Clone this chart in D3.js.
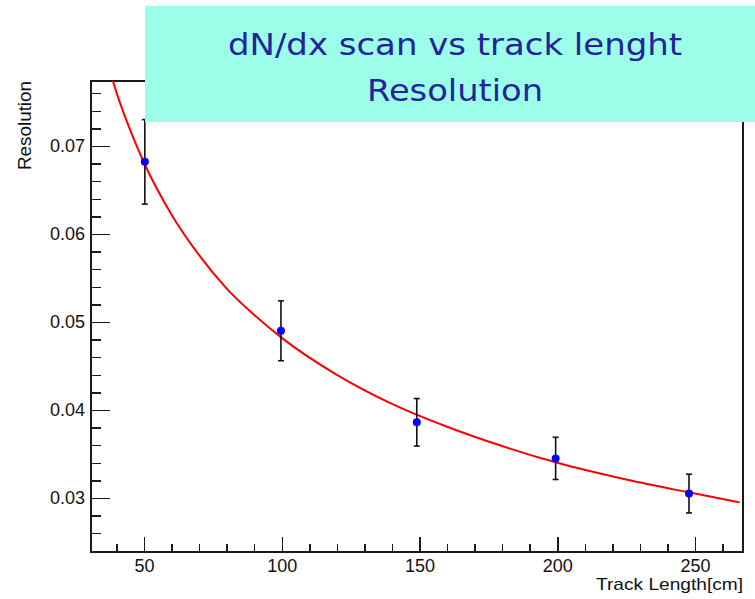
<!DOCTYPE html>
<html>
<head>
<meta charset="utf-8">
<script src="https://cdn.jsdelivr.net/npm/d3@7"></script>
<style>
  body { margin: 0; background: #fff; }
  svg { display: block; }
</style>
</head>
<body>
<div id="chart"></div>
<script>
(function(){
  // measured points
  const trackLength = [50.3, 99.7, 149, 199.4, 247.8];
  const resolution = [0.0682, 0.0490, 0.0386, 0.0345, 0.0305];
  const resError = [0.0048, 0.0034, 0.0027, 0.0024, 0.0022];

  // fit curve
  const fitX = [38.7, 40, 45, 50, 60, 70, 80, 90, 100, 120, 140, 160, 180, 200, 225, 250, 266.2];
  const fitY = [0.0774, 0.0761, 0.0718, 0.0681, 0.0622, 0.0576, 0.0538, 0.0508, 0.0482, 0.0440, 0.0407, 0.0381, 0.0359, 0.0340, 0.0321, 0.0305, 0.0295];

  const xTicks = [50, 100, 150, 200, 250];
  const yTicks = [0.03, 0.04, 0.05, 0.06, 0.07];
  const titleLines = ["dN/dx scan vs track lenght", "Resolution"];

  const width = 755, height = 599;
  const frame = { left: 91, top: 81, right: 743, bottom: 552 };

  const svg = d3.select("#chart")
    .append("svg")
    .attr("width", width)
    .attr("height", height);

  svg.append("rect").attr("width", width).attr("height", height).attr("fill", "#fff");

  const x = d3.scaleLinear()
    .domain([30.76, 267.4])
    .range([frame.left, frame.right]);

  const y = d3.scaleLinear()
    .domain([0.02386, 0.07739])
    .range([frame.bottom, frame.top]);

  const font = "'Liberation Sans', Arial, sans-serif";

  // minor ticks
  const xMinor = d3.range(40, 261, 10).filter(v => !xTicks.includes(v));
  const yMinor = d3.range(24, 77, 2).map(v => v / 1000).filter(v => !yTicks.some(t => Math.abs(t - v) < 1e-6));

  svg.append("g")
    .attr("transform", `translate(0,${frame.bottom})`)
    .call(d3.axisBottom(x).tickValues(xMinor).tickSize(-8).tickFormat(""))
    .call(g => g.select(".domain").remove());

  svg.append("g")
    .attr("transform", `translate(${frame.left},0)`)
    .call(d3.axisLeft(y).tickValues(yMinor).tickSize(-10).tickFormat(""))
    .call(g => g.select(".domain").remove());

  const xAxis = svg.append("g")
    .attr("transform", `translate(0,${frame.bottom})`)
    .call(d3.axisBottom(x).tickValues(xTicks).tickSize(-15).tickPadding(7).tickFormat(d3.format("d")));
  xAxis.select(".domain").remove();

  const yAxis = svg.append("g")
    .attr("transform", `translate(${frame.left},0)`)
    .call(d3.axisLeft(y).tickValues(yTicks).tickSize(-19).tickPadding(6).tickFormat(d3.format(".2f")));
  yAxis.select(".domain").remove();

  svg.selectAll(".tick line")
    .attr("stroke", "#1a1a1a")
    .attr("stroke-width", 1.5)
    .attr("shape-rendering", "crispEdges");
  svg.selectAll(".tick text")
    .attr("font-family", font)
    .attr("font-size", 18)
    .attr("fill", "#111");

  // frame
  svg.append("rect")
    .attr("x", frame.left)
    .attr("y", frame.top)
    .attr("width", frame.right - frame.left)
    .attr("height", frame.bottom - frame.top)
    .attr("fill", "none")
    .attr("stroke", "#1a1a1a")
    .attr("stroke-width", 1.5)
    .attr("shape-rendering", "crispEdges");

  // fit line
  svg.append("clipPath").attr("id", "clip")
    .append("rect")
    .attr("x", frame.left).attr("y", frame.top)
    .attr("width", frame.right - frame.left)
    .attr("height", frame.bottom - frame.top);

  const line = d3.line()
    .x((d, i) => x(fitX[i]))
    .y(d => y(d))
    .curve(d3.curveMonotoneX);

  svg.append("path")
    .datum(fitY)
    .attr("clip-path", "url(#clip)")
    .attr("d", line)
    .attr("fill", "none")
    .attr("stroke", "#ff0000")
    .attr("stroke-width", 2);

  // error bars
  const bars = svg.append("g").attr("stroke", "#111").attr("stroke-width", 1.6);
  resolution.forEach((v, i) => {
    const cx = x(trackLength[i]);
    const y0 = y(v - resError[i]), y1 = y(v + resError[i]);
    bars.append("line").attr("x1", cx).attr("x2", cx).attr("y1", y0).attr("y2", y1);
    bars.append("line").attr("x1", cx - 3).attr("x2", cx + 3).attr("y1", y0).attr("y2", y0);
    bars.append("line").attr("x1", cx - 3).attr("x2", cx + 3).attr("y1", y1).attr("y2", y1);
  });

  svg.append("g")
    .selectAll("circle")
    .data(resolution)
    .join("circle")
    .attr("cx", (d, i) => x(trackLength[i]))
    .attr("cy", d => y(d))
    .attr("r", 4)
    .attr("fill", "#0000ff");

  // axis titles
  svg.append("text")
    .attr("x", frame.right)
    .attr("y", 590)
    .attr("text-anchor", "end")
    .attr("font-family", font)
    .attr("font-size", 17)
    .attr("fill", "#111")
    .attr("textLength", 147)
    .attr("lengthAdjust", "spacingAndGlyphs")
    .text("Track Length[cm]");

  svg.append("text")
    .attr("transform", `translate(31,${frame.top}) rotate(-90)`)
    .attr("text-anchor", "end")
    .attr("font-family", font)
    .attr("font-size", 18)
    .attr("fill", "#111")
    .attr("textLength", 89)
    .attr("lengthAdjust", "spacingAndGlyphs")
    .text("Resolution");

  // title box
  svg.append("rect")
    .attr("x", 145)
    .attr("y", 6)
    .attr("width", width - 145)
    .attr("height", 116)
    .attr("fill", "#9cfde8");

  const titleWidths = [454, 176];
  svg.append("g")
    .selectAll("text")
    .data(titleLines)
    .join("text")
    .attr("x", 455)
    .attr("y", (d, i) => 55 + i * 46)
    .attr("text-anchor", "middle")
    .attr("font-family", "'DejaVu Sans', Verdana, sans-serif")
    .attr("font-size", 31)
    .attr("fill", "#22249a")
    .attr("textLength", (d, i) => titleWidths[i])
    .attr("lengthAdjust", "spacingAndGlyphs")
    .text(d => d);
})();
</script>
</body>
</html>
